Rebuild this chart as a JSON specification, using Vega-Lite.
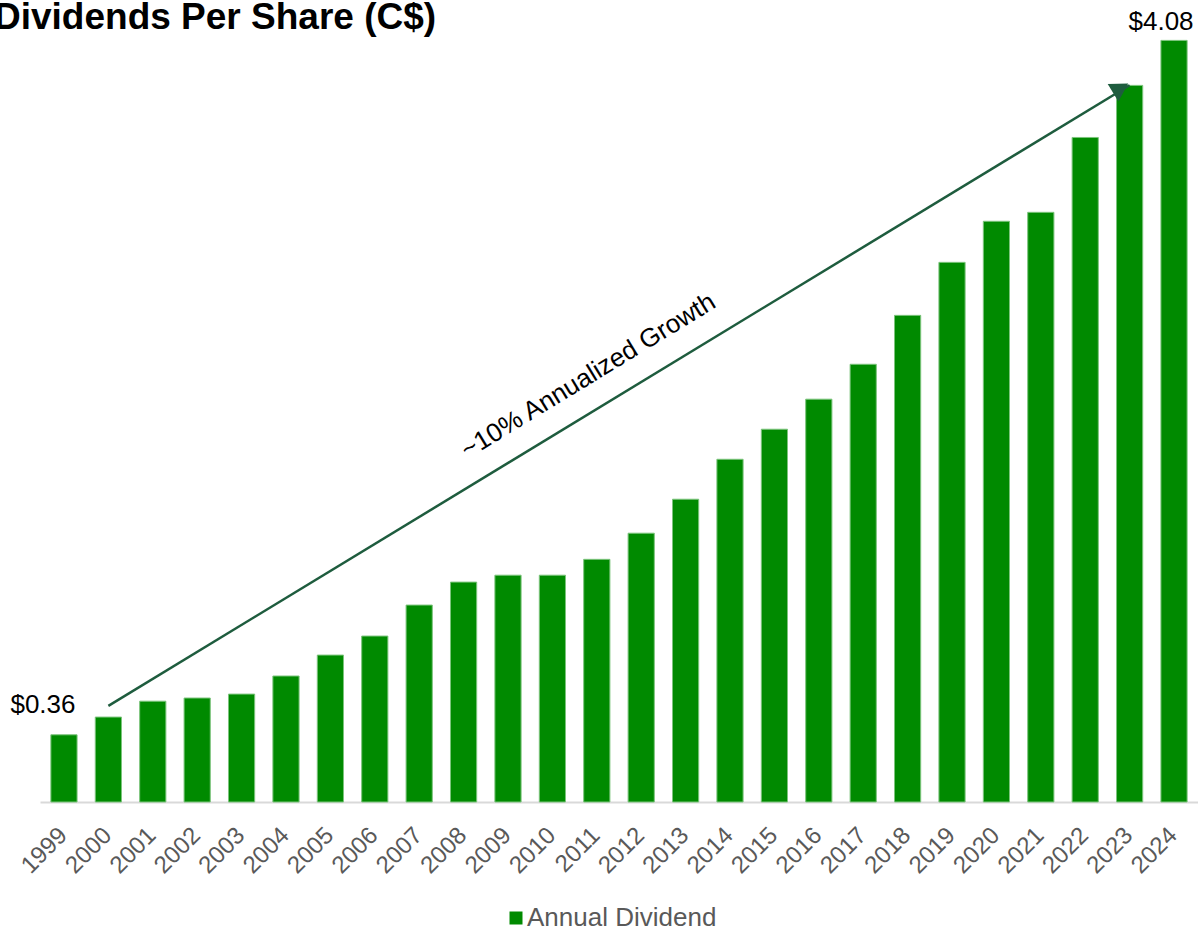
{
  "$schema": "https://vega.github.io/schema/vega-lite/v6.json",
  "autosize": "none",
  "width": 1158,
  "height": 784,
  "padding": {"left": 40, "top": 18, "right": 0, "bottom": 130},
  "background": "white",
  "config": {"view": {"stroke": null}, "font": "Liberation Sans"},
  "title": {
    "text": "Dividends Per Share (C$)",
    "anchor": "start",
    "frame": "group",
    "font": "Liberation Sans",
    "fontSize": 37,
    "fontWeight": "bold",
    "color": "#000000",
    "dx": -46,
    "offset": -28
  },
  "datasets": {
    "divs": [
      {"year": "1999", "dividend": 0.36, "label": "$0.36"},
      {"year": "2000", "dividend": 0.455},
      {"year": "2001", "dividend": 0.54},
      {"year": "2002", "dividend": 0.557},
      {"year": "2003", "dividend": 0.578},
      {"year": "2004", "dividend": 0.675},
      {"year": "2005", "dividend": 0.787},
      {"year": "2006", "dividend": 0.889},
      {"year": "2007", "dividend": 1.055},
      {"year": "2008", "dividend": 1.178},
      {"year": "2009", "dividend": 1.215},
      {"year": "2010", "dividend": 1.215},
      {"year": "2011", "dividend": 1.30},
      {"year": "2012", "dividend": 1.44},
      {"year": "2013", "dividend": 1.622},
      {"year": "2014", "dividend": 1.836},
      {"year": "2015", "dividend": 1.997},
      {"year": "2016", "dividend": 2.158},
      {"year": "2017", "dividend": 2.345},
      {"year": "2018", "dividend": 2.607},
      {"year": "2019", "dividend": 2.891},
      {"year": "2020", "dividend": 3.111},
      {"year": "2021", "dividend": 3.159},
      {"year": "2022", "dividend": 3.56},
      {"year": "2023", "dividend": 3.839},
      {"year": "2024", "dividend": 4.08, "label": "$4.08"}
    ],
    "arrow": [
      {"year": "2000", "dividend": 0.515},
      {"year": "2023", "dividend": 3.84}
    ],
    "arrowhead": [
      {"year": "2023", "dividend": 3.857}
    ],
    "note": [
      {"year": "2011", "dividend": 2.31, "text": "~10% Annualized Growth"}
    ]
  },
  "encoding": {
    "x": {
      "field": "year",
      "type": "ordinal",
      "scale": {"paddingInner": 0.41, "paddingOuter": 0.245},
      "axis": {
        "title": null,
        "labelAngle": -45,
        "labelFontSize": 24,
        "labelColor": "#595959",
        "labelFont": "Liberation Sans",
        "ticks": false,
        "domainColor": "#d9d9d9",
        "domainWidth": 2,
        "labelPadding": 21,
        "labelOffset": -9
      }
    },
    "y": {
      "field": "dividend",
      "type": "quantitative",
      "scale": {"domain": [0, 4.2], "nice": false},
      "axis": null
    }
  },
  "layer": [
    {
      "data": {"name": "divs"},
      "mark": {"type": "bar", "stroke": "#7cc47c", "strokeWidth": 1},
      "encoding": {
        "color": {
          "datum": "Annual Dividend",
          "scale": {"range": ["#008a00"]},
          "legend": {
            "title": null,
            "orient": "none",
            "legendX": 463,
            "legendY": 887,
            "direction": "horizontal",
            "symbolType": "square",
            "symbolSize": 169,
            "symbolStrokeWidth": 0,
            "labelFontSize": 26,
            "labelLimit": 0,
            "labelColor": "#595959",
            "labelFont": "Liberation Sans",
            "labelOffset": -2
          }
        }
      }
    },
    {
      "data": {"name": "divs"},
      "transform": [{"filter": "datum.year == '1999'"}],
      "mark": {"type": "text", "fontSize": 26, "font": "Liberation Sans", "color": "#000000", "dx": -21, "dy": -22, "baseline": "alphabetic", "align": "center"},
      "encoding": {"text": {"field": "label"}}
    },
    {
      "data": {"name": "divs"},
      "transform": [{"filter": "datum.year == '2024'"}],
      "mark": {"type": "text", "fontSize": 26, "font": "Liberation Sans", "color": "#000000", "dx": -13, "dy": -10, "baseline": "alphabetic", "align": "center"},
      "encoding": {"text": {"field": "label"}}
    },
    {
      "data": {"name": "arrow"},
      "mark": {"type": "line", "color": "#1e5c3e", "strokeWidth": 2.5},
      "encoding": {}
    },
    {
      "data": {"name": "arrowhead"},
      "mark": {"type": "point", "shape": "triangle-right", "filled": true, "color": "#1e5c3e", "size": 420, "angle": 328.6, "opacity": 1, "xOffset": -9, "yOffset": 6},
      "encoding": {}
    },
    {
      "data": {"name": "note"},
      "mark": {"type": "text", "fontSize": 26, "font": "Liberation Sans", "color": "#000000", "angle": 328.6, "align": "center", "baseline": "middle", "dx": -10},
      "encoding": {"text": {"field": "text"}}
    }
  ]
}
